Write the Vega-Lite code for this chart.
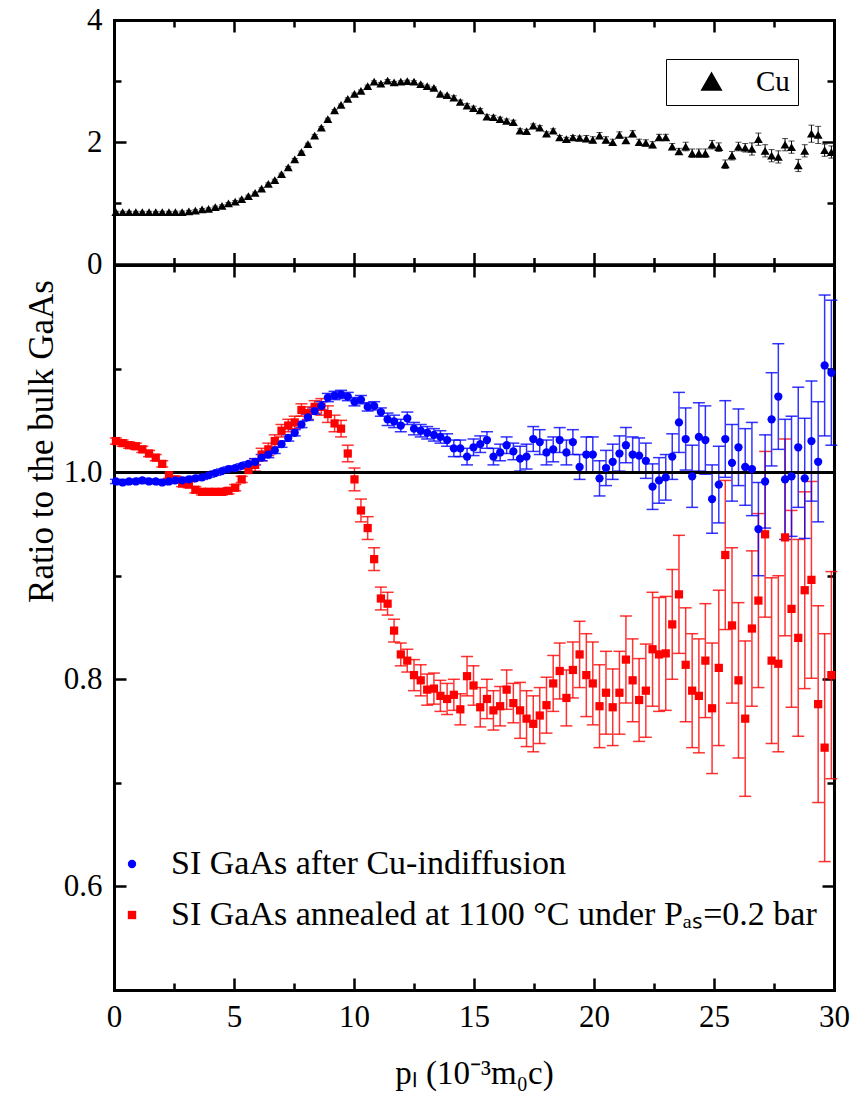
{
  "$schema": "https://vega.github.io/schema/vega-lite/v6.json",
  "background": "white",
  "padding": {"left": 23, "top": 4, "right": 8, "bottom": 4},
  "autosize": {"type": "pad"},
  "spacing": 0,
  "bounds": "flush",
  "resolve": {"scale": {"shape": "independent", "color": "independent"}, "legend": {"shape": "independent", "color": "independent"}},
  "config": {
    "font": "Liberation Serif",
    "view": {"stroke": null},
    "style": {"guide-label": {"font": "Liberation Serif"}, "guide-title": {"font": "Liberation Serif"}},
    "axis": {
      "grid": false, "domainColor": "black", "domainWidth": 3, "domainCap": "square",
      "tickColor": "black", "tickWidth": 2.5,
      "labelFont": "Liberation Serif", "labelFontSize": 31, "labelColor": "black",
      "titleFont": "Liberation Serif", "titleFontSize": 33, "titleColor": "black", "titleFontWeight": "normal",
      "labelFlush": false
    },
    "legend": {"labelFont": "Liberation Serif", "labelColor": "black", "labelLimit": 800}
  },
  "datasets": {
    "cu": [
      {"x":0.08,"v":0.855,"e":0.015},{"x":0.36,"v":0.855,"e":0.015},{"x":0.63,"v":0.855,"e":0.015},{"x":0.91,"v":0.855,"e":0.015},{"x":1.18,"v":0.855,"e":0.015},{"x":1.46,"v":0.855,"e":0.015},{"x":1.74,"v":0.855,"e":0.015},{"x":2.01,"v":0.855,"e":0.015},{"x":2.29,"v":0.855,"e":0.015},{"x":2.56,"v":0.856,"e":0.015},
      {"x":2.84,"v":0.858,"e":0.015},{"x":3.12,"v":0.87,"e":0.015},{"x":3.39,"v":0.88,"e":0.015},{"x":3.67,"v":0.90,"e":0.015},{"x":3.94,"v":0.91,"e":0.015},{"x":4.22,"v":0.94,"e":0.015},{"x":4.50,"v":0.96,"e":0.015},{"x":4.77,"v":1.00,"e":0.015},{"x":5.05,"v":1.03,"e":0.015},{"x":5.32,"v":1.07,"e":0.015},
      {"x":5.60,"v":1.12,"e":0.015},{"x":5.88,"v":1.17,"e":0.015},{"x":6.15,"v":1.24,"e":0.015},{"x":6.43,"v":1.32,"e":0.015},{"x":6.70,"v":1.38,"e":0.015},{"x":6.98,"v":1.48,"e":0.015},{"x":7.26,"v":1.59,"e":0.015},{"x":7.53,"v":1.72,"e":0.015},{"x":7.81,"v":1.84,"e":0.015},{"x":8.08,"v":1.97,"e":0.015},
      {"x":8.36,"v":2.11,"e":0.015},{"x":8.64,"v":2.24,"e":0.015},{"x":8.91,"v":2.38,"e":0.015},{"x":9.19,"v":2.52,"e":0.015},{"x":9.46,"v":2.61,"e":0.015},{"x":9.74,"v":2.71,"e":0.015},{"x":10.02,"v":2.79,"e":0.015},{"x":10.29,"v":2.84,"e":0.015},{"x":10.57,"v":2.92,"e":0.015},{"x":10.84,"v":2.99,"e":0.015},
      {"x":11.12,"v":2.96,"e":0.015},{"x":11.40,"v":3.01,"e":0.015},{"x":11.67,"v":2.98,"e":0.015},{"x":11.95,"v":2.99,"e":0.015},{"x":12.22,"v":3.00,"e":0.015},{"x":12.50,"v":2.99,"e":0.015},{"x":12.78,"v":2.95,"e":0.015},{"x":13.05,"v":2.92,"e":0.015},{"x":13.33,"v":2.89,"e":0.015},{"x":13.60,"v":2.79,"e":0.015},
      {"x":13.88,"v":2.77,"e":0.015},{"x":14.16,"v":2.73,"e":0.03},{"x":14.43,"v":2.66,"e":0.03},{"x":14.71,"v":2.60,"e":0.03},{"x":14.98,"v":2.56,"e":0.03},{"x":15.26,"v":2.52,"e":0.03},{"x":15.54,"v":2.42,"e":0.03},{"x":15.81,"v":2.41,"e":0.03},{"x":16.09,"v":2.38,"e":0.03},{"x":16.36,"v":2.35,"e":0.03},
      {"x":16.64,"v":2.33,"e":0.03},{"x":16.92,"v":2.19,"e":0.03},{"x":17.19,"v":2.18,"e":0.03},{"x":17.47,"v":2.27,"e":0.03},{"x":17.74,"v":2.24,"e":0.03},{"x":18.02,"v":2.14,"e":0.03},{"x":18.30,"v":2.19,"e":0.03},{"x":18.57,"v":2.08,"e":0.03},{"x":18.85,"v":2.05,"e":0.03},{"x":19.12,"v":2.08,"e":0.03},
      {"x":19.40,"v":2.07,"e":0.03},{"x":19.68,"v":2.06,"e":0.05},{"x":19.95,"v":2.04,"e":0.05},{"x":20.23,"v":2.11,"e":0.05},{"x":20.50,"v":2.04,"e":0.05},{"x":20.78,"v":2.00,"e":0.05},{"x":21.06,"v":2.12,"e":0.05},{"x":21.33,"v":2.03,"e":0.05},{"x":21.61,"v":2.14,"e":0.05},{"x":21.88,"v":2.00,"e":0.05},
      {"x":22.16,"v":1.99,"e":0.05},{"x":22.44,"v":1.96,"e":0.05},{"x":22.71,"v":2.08,"e":0.05},{"x":22.99,"v":2.08,"e":0.05},{"x":23.26,"v":1.93,"e":0.05},{"x":23.54,"v":1.85,"e":0.05},{"x":23.82,"v":1.93,"e":0.07},{"x":24.09,"v":1.82,"e":0.07},{"x":24.37,"v":1.82,"e":0.07},{"x":24.64,"v":1.82,"e":0.07},
      {"x":24.92,"v":1.96,"e":0.07},{"x":25.20,"v":1.92,"e":0.07},{"x":25.47,"v":1.64,"e":0.07},{"x":25.75,"v":1.78,"e":0.07},{"x":26.02,"v":1.93,"e":0.07},{"x":26.30,"v":1.91,"e":0.07},{"x":26.58,"v":1.89,"e":0.1},{"x":26.85,"v":2.05,"e":0.1},{"x":27.13,"v":1.86,"e":0.1},{"x":27.40,"v":1.78,"e":0.1},
      {"x":27.68,"v":1.76,"e":0.1},{"x":27.96,"v":1.96,"e":0.1},{"x":28.23,"v":1.92,"e":0.1},{"x":28.51,"v":1.62,"e":0.1},{"x":28.78,"v":1.86,"e":0.1},{"x":29.06,"v":2.14,"e":0.14},{"x":29.34,"v":2.12,"e":0.14},{"x":29.61,"v":1.87,"e":0.1},{"x":29.89,"v":1.84,"e":0.1}
    ],
    "gaas": [
      {"s":"b","x":0.08,"v":1.030,"e":0.003},{"s":"b","x":0.36,"v":1.028,"e":0.003},{"s":"b","x":0.63,"v":1.026,"e":0.003},{"s":"b","x":0.91,"v":1.025,"e":0.003},{"s":"b","x":1.18,"v":1.022,"e":0.003},{"s":"b","x":1.46,"v":1.018,"e":0.003},{"s":"b","x":1.74,"v":1.014,"e":0.003},{"s":"b","x":2.01,"v":1.008,"e":0.003},{"s":"b","x":2.29,"v":0.997,"e":0.003},{"s":"b","x":2.56,"v":0.993,"e":0.003},
      {"s":"b","x":2.84,"v":0.989,"e":0.003},{"s":"b","x":3.12,"v":0.988,"e":0.003},{"s":"b","x":3.39,"v":0.983,"e":0.003},{"s":"b","x":3.67,"v":0.981,"e":0.003},{"s":"b","x":3.94,"v":0.981,"e":0.003},{"s":"b","x":4.22,"v":0.981,"e":0.003},{"s":"b","x":4.50,"v":0.981,"e":0.003},{"s":"b","x":4.77,"v":0.982,"e":0.003},{"s":"b","x":5.05,"v":0.985,"e":0.003},{"s":"b","x":5.32,"v":0.993,"e":0.003},
      {"s":"b","x":5.60,"v":1.002,"e":0.003},{"s":"b","x":5.88,"v":1.007,"e":0.006},{"s":"b","x":6.15,"v":1.017,"e":0.006},{"s":"b","x":6.43,"v":1.022,"e":0.006},{"s":"b","x":6.70,"v":1.030,"e":0.006},{"s":"b","x":6.98,"v":1.040,"e":0.006},{"s":"b","x":7.26,"v":1.045,"e":0.006},{"s":"b","x":7.53,"v":1.048,"e":0.006},{"s":"b","x":7.81,"v":1.060,"e":0.006},{"s":"b","x":8.08,"v":1.057,"e":0.006},
      {"s":"b","x":8.36,"v":1.063,"e":0.006},{"s":"b","x":8.64,"v":1.063,"e":0.008},{"s":"b","x":8.91,"v":1.056,"e":0.008},{"s":"b","x":9.19,"v":1.047,"e":0.008},{"s":"b","x":9.46,"v":1.042,"e":0.008},{"s":"b","x":9.74,"v":1.018,"e":0.008},{"s":"b","x":10.02,"v":0.993,"e":0.011},{"s":"b","x":10.29,"v":0.963,"e":0.011},{"s":"b","x":10.57,"v":0.946,"e":0.011},{"s":"b","x":10.84,"v":0.916,"e":0.011},
      {"s":"b","x":11.12,"v":0.878,"e":0.011},{"s":"b","x":11.40,"v":0.873,"e":0.011},{"s":"b","x":11.67,"v":0.847,"e":0.011},{"s":"b","x":11.95,"v":0.824,"e":0.011},{"s":"b","x":12.22,"v":0.818,"e":0.011},{"s":"b","x":12.50,"v":0.804,"e":0.015},{"s":"b","x":12.78,"v":0.799,"e":0.015},{"s":"b","x":13.05,"v":0.790,"e":0.015},{"s":"b","x":13.33,"v":0.791,"e":0.015},{"s":"b","x":13.60,"v":0.784,"e":0.015},
      {"s":"b","x":13.88,"v":0.781,"e":0.015},{"s":"b","x":14.16,"v":0.785,"e":0.015},{"s":"b","x":14.43,"v":0.771,"e":0.015},{"s":"b","x":14.71,"v":0.803,"e":0.019},{"s":"b","x":14.98,"v":0.794,"e":0.019},{"s":"b","x":15.26,"v":0.773,"e":0.019},{"s":"b","x":15.54,"v":0.781,"e":0.019},{"s":"b","x":15.81,"v":0.770,"e":0.019},{"s":"b","x":16.09,"v":0.774,"e":0.019},{"s":"b","x":16.36,"v":0.790,"e":0.019},
      {"s":"b","x":16.64,"v":0.777,"e":0.019},{"s":"b","x":16.92,"v":0.770,"e":0.027},{"s":"b","x":17.19,"v":0.762,"e":0.027},{"s":"b","x":17.47,"v":0.757,"e":0.027},{"s":"b","x":17.74,"v":0.765,"e":0.027},{"s":"b","x":18.02,"v":0.775,"e":0.027},{"s":"b","x":18.30,"v":0.796,"e":0.027},{"s":"b","x":18.57,"v":0.808,"e":0.027},{"s":"b","x":18.85,"v":0.782,"e":0.027},{"s":"b","x":19.12,"v":0.809,"e":0.027},
      {"s":"b","x":19.40,"v":0.824,"e":0.032},{"s":"b","x":19.68,"v":0.804,"e":0.04},{"s":"b","x":19.95,"v":0.796,"e":0.04},{"s":"b","x":20.23,"v":0.774,"e":0.04},{"s":"b","x":20.50,"v":0.787,"e":0.04},{"s":"b","x":20.78,"v":0.773,"e":0.037},{"s":"b","x":21.06,"v":0.787,"e":0.04},{"s":"b","x":21.33,"v":0.819,"e":0.042},{"s":"b","x":21.61,"v":0.799,"e":0.04},{"s":"b","x":21.88,"v":0.780,"e":0.04},
      {"s":"b","x":22.16,"v":0.789,"e":0.045},{"s":"b","x":22.44,"v":0.829,"e":0.055},{"s":"b","x":22.71,"v":0.824,"e":0.055},{"s":"b","x":22.99,"v":0.825,"e":0.055},{"s":"b","x":23.26,"v":0.853,"e":0.053},{"s":"b","x":23.54,"v":0.882,"e":0.057},{"s":"b","x":23.82,"v":0.814,"e":0.055},{"s":"b","x":24.09,"v":0.789,"e":0.055},{"s":"b","x":24.37,"v":0.784,"e":0.055},{"s":"b","x":24.64,"v":0.818,"e":0.055},
      {"s":"b","x":24.92,"v":0.772,"e":0.063},{"s":"b","x":25.20,"v":0.811,"e":0.075},{"s":"b","x":25.47,"v":0.920,"e":0.072},{"s":"b","x":25.75,"v":0.852,"e":0.075},{"s":"b","x":26.02,"v":0.799,"e":0.075},{"s":"b","x":26.30,"v":0.762,"e":0.075},{"s":"b","x":26.58,"v":0.849,"e":0.075},{"s":"b","x":26.85,"v":0.876,"e":0.084},{"s":"b","x":27.13,"v":0.940,"e":0.08},{"s":"b","x":27.40,"v":0.818,"e":0.08},
      {"s":"b","x":27.68,"v":0.815,"e":0.085},{"s":"b","x":27.96,"v":0.937,"e":0.095},{"s":"b","x":28.23,"v":0.868,"e":0.095},{"s":"b","x":28.51,"v":0.840,"e":0.095},{"s":"b","x":28.78,"v":0.886,"e":0.095},{"s":"b","x":29.06,"v":0.896,"e":0.095},{"s":"b","x":29.34,"v":0.776,"e":0.095},{"s":"b","x":29.61,"v":0.734,"e":0.11},{"s":"b","x":29.89,"v":0.804,"e":0.1},
      {"s":"a","x":0.08,"v":0.991,"e":0.002},{"s":"a","x":0.36,"v":0.990,"e":0.002},{"s":"a","x":0.63,"v":0.991,"e":0.002},{"s":"a","x":0.91,"v":0.991,"e":0.002},{"s":"a","x":1.18,"v":0.992,"e":0.002},{"s":"a","x":1.46,"v":0.991,"e":0.002},{"s":"a","x":1.74,"v":0.991,"e":0.002},{"s":"a","x":2.01,"v":0.990,"e":0.002},{"s":"a","x":2.29,"v":0.991,"e":0.002},{"s":"a","x":2.56,"v":0.992,"e":0.002},
      {"s":"a","x":2.84,"v":0.992,"e":0.002},{"s":"a","x":3.12,"v":0.993,"e":0.002},{"s":"a","x":3.39,"v":0.994,"e":0.002},{"s":"a","x":3.67,"v":0.995,"e":0.002},{"s":"a","x":3.94,"v":0.997,"e":0.002},{"s":"a","x":4.22,"v":0.999,"e":0.002},{"s":"a","x":4.50,"v":1.001,"e":0.002},{"s":"a","x":4.77,"v":1.003,"e":0.002},{"s":"a","x":5.05,"v":1.004,"e":0.002},{"s":"a","x":5.32,"v":1.006,"e":0.002},
      {"s":"a","x":5.60,"v":1.008,"e":0.002},{"s":"a","x":5.88,"v":1.010,"e":0.003},{"s":"a","x":6.15,"v":1.014,"e":0.003},{"s":"a","x":6.43,"v":1.017,"e":0.003},{"s":"a","x":6.70,"v":1.021,"e":0.003},{"s":"a","x":6.98,"v":1.027,"e":0.003},{"s":"a","x":7.26,"v":1.033,"e":0.003},{"s":"a","x":7.53,"v":1.038,"e":0.003},{"s":"a","x":7.81,"v":1.046,"e":0.003},{"s":"a","x":8.08,"v":1.053,"e":0.003},
      {"s":"a","x":8.36,"v":1.059,"e":0.003},{"s":"a","x":8.64,"v":1.064,"e":0.004},{"s":"a","x":8.91,"v":1.072,"e":0.004},{"s":"a","x":9.19,"v":1.074,"e":0.004},{"s":"a","x":9.46,"v":1.075,"e":0.004},{"s":"a","x":9.74,"v":1.073,"e":0.004},{"s":"a","x":10.02,"v":1.068,"e":0.004},{"s":"a","x":10.29,"v":1.070,"e":0.004},{"s":"a","x":10.57,"v":1.063,"e":0.004},{"s":"a","x":10.84,"v":1.064,"e":0.004},
      {"s":"a","x":11.12,"v":1.058,"e":0.004},{"s":"a","x":11.40,"v":1.051,"e":0.006},{"s":"a","x":11.67,"v":1.049,"e":0.006},{"s":"a","x":11.95,"v":1.045,"e":0.006},{"s":"a","x":12.22,"v":1.052,"e":0.006},{"s":"a","x":12.50,"v":1.042,"e":0.006},{"s":"a","x":12.78,"v":1.040,"e":0.006},{"s":"a","x":13.05,"v":1.038,"e":0.006},{"s":"a","x":13.33,"v":1.036,"e":0.006},{"s":"a","x":13.60,"v":1.034,"e":0.006},
      {"s":"a","x":13.88,"v":1.031,"e":0.006},{"s":"a","x":14.16,"v":1.023,"e":0.008},{"s":"a","x":14.43,"v":1.023,"e":0.008},{"s":"a","x":14.71,"v":1.015,"e":0.008},{"s":"a","x":14.98,"v":1.024,"e":0.008},{"s":"a","x":15.26,"v":1.027,"e":0.008},{"s":"a","x":15.54,"v":1.031,"e":0.008},{"s":"a","x":15.81,"v":1.015,"e":0.008},{"s":"a","x":16.09,"v":1.019,"e":0.008},{"s":"a","x":16.36,"v":1.026,"e":0.008},
      {"s":"a","x":16.64,"v":1.020,"e":0.008},{"s":"a","x":16.92,"v":1.013,"e":0.012},{"s":"a","x":17.19,"v":1.015,"e":0.012},{"s":"a","x":17.47,"v":1.032,"e":0.012},{"s":"a","x":17.74,"v":1.029,"e":0.012},{"s":"a","x":18.02,"v":1.019,"e":0.012},{"s":"a","x":18.30,"v":1.022,"e":0.012},{"s":"a","x":18.57,"v":1.031,"e":0.012},{"s":"a","x":18.85,"v":1.019,"e":0.012},{"s":"a","x":19.12,"v":1.029,"e":0.012},
      {"s":"a","x":19.40,"v":1.005,"e":0.012},{"s":"a","x":19.68,"v":1.017,"e":0.017},{"s":"a","x":19.95,"v":1.017,"e":0.017},{"s":"a","x":20.23,"v":0.994,"e":0.017},{"s":"a","x":20.50,"v":1.004,"e":0.017},{"s":"a","x":20.78,"v":1.010,"e":0.017},{"s":"a","x":21.06,"v":1.018,"e":0.017},{"s":"a","x":21.33,"v":1.026,"e":0.017},{"s":"a","x":21.61,"v":1.017,"e":0.017},{"s":"a","x":21.88,"v":1.016,"e":0.017},
      {"s":"a","x":22.16,"v":1.011,"e":0.017},{"s":"a","x":22.44,"v":0.986,"e":0.022},{"s":"a","x":22.71,"v":0.992,"e":0.022},{"s":"a","x":22.99,"v":0.995,"e":0.022},{"s":"a","x":23.26,"v":1.015,"e":0.022},{"s":"a","x":23.54,"v":1.048,"e":0.029},{"s":"a","x":23.82,"v":1.032,"e":0.03},{"s":"a","x":24.09,"v":0.996,"e":0.03},{"s":"a","x":24.37,"v":1.034,"e":0.033},{"s":"a","x":24.64,"v":1.031,"e":0.033},
      {"s":"a","x":24.92,"v":0.974,"e":0.033},{"s":"a","x":25.20,"v":0.988,"e":0.037},{"s":"a","x":25.47,"v":1.032,"e":0.037},{"s":"a","x":25.75,"v":1.009,"e":0.037},{"s":"a","x":26.02,"v":1.024,"e":0.037},{"s":"a","x":26.30,"v":1.005,"e":0.037},{"s":"a","x":26.58,"v":1.003,"e":0.045},{"s":"a","x":26.85,"v":0.945,"e":0.045},{"s":"a","x":27.13,"v":0.991,"e":0.045},{"s":"a","x":27.40,"v":1.051,"e":0.045},
      {"s":"a","x":27.68,"v":1.073,"e":0.051},{"s":"a","x":27.96,"v":0.993,"e":0.058},{"s":"a","x":28.23,"v":0.996,"e":0.058},{"s":"a","x":28.51,"v":1.024,"e":0.058},{"s":"a","x":28.78,"v":0.994,"e":0.058},{"s":"a","x":29.06,"v":1.030,"e":0.058},{"s":"a","x":29.34,"v":1.010,"e":0.058},{"s":"a","x":29.61,"v":1.103,"e":0.068},{"s":"a","x":29.89,"v":1.096,"e":0.07}
    ]
  },
  "vconcat": [
    {
      "width": 720, "height": 244.5,
      "data": {"name": "cu"},
      "resolve": {"axis": {"x": "independent", "y": "independent"}},
      "layer": [
        {"mark": {"type": "errorbar", "ticks": {"size": 6}, "thickness": 1, "color": "black"},
         "encoding": {
           "x": {"field": "x", "type": "quantitative", "scale": {"domain": [0, 30], "nice": false, "zero": false}, "axis": null},
           "y": {"field": "v", "type": "quantitative", "scale": {"domain": [0, 4], "nice": false}, "axis": null},
           "yError": {"field": "e"}}},
        {"mark": {"type": "point", "filled": true, "shape": "triangle-up", "opacity": 1, "size": 80},
         "encoding": {
           "x": {"field": "x", "type": "quantitative", "axis": {"orient": "bottom", "values": [0,5,10,15,20,25,30], "labels": false, "tickSize": -12, "title": null}},
           "y": {"field": "v", "type": "quantitative", "axis": {"orient": "left", "values": [0,2,4], "format": "d", "tickSize": -12, "labelPadding": 24, "title": null, "labelFont": "Liberation Serif"}},
           "color": {"datum": "Cu", "type": "nominal", "scale": {"domain": ["Cu"], "range": ["black"]},
             "legend": {"orient": "none", "legendX": 552, "legendY": 39, "title": null, "strokeColor": "black", "fillColor": "white", "padding": 8,
               "symbolType": "triangle-up", "symbolSize": 380, "symbolFillColor": "black", "symbolStrokeColor": "black", "symbolOffset": 23, "labelOffset": 30, "labelFontSize": 29, "labelFont": "Liberation Serif"}}}},
        {"mark": {"type": "point", "opacity": 0},
         "encoding": {
           "x": {"field": "x", "type": "quantitative", "axis": {"orient": "top", "values": [0,5,10,15,20,25,30], "labels": false, "tickSize": -12, "title": null}},
           "y": {"field": "v", "type": "quantitative", "axis": {"orient": "right", "values": [0,2,4], "labels": false, "tickSize": -12, "title": null}}}},
        {"mark": {"type": "point", "opacity": 0},
         "encoding": {
           "x": {"field": "x", "type": "quantitative", "axis": {"orient": "bottom", "values": [2.5,7.5,12.5,17.5,22.5,27.5], "labels": false, "tickSize": -7, "title": null}},
           "y": {"field": "v", "type": "quantitative", "axis": {"orient": "left", "values": [1,3], "labels": false, "tickSize": -7, "title": null}}}},
        {"mark": {"type": "point", "opacity": 0},
         "encoding": {
           "x": {"field": "x", "type": "quantitative", "axis": {"orient": "top", "values": [2.5,7.5,12.5,17.5,22.5,27.5], "labels": false, "tickSize": -7, "title": null}},
           "y": {"field": "v", "type": "quantitative", "axis": {"orient": "right", "values": [1,3], "labels": false, "tickSize": -7, "title": null}}}}
      ]
    },
    {
      "width": 720, "height": 725,
      "data": {"name": "gaas"},
      "resolve": {"axis": {"x": "independent", "y": "independent"}},
      "layer": [
        {"transform": [{"filter": "datum.s == 'b'"}],
         "mark": {"type": "errorbar", "ticks": {"size": 12}, "thickness": 1.5, "opacity": 0.8, "color": "#ff0000"},
         "encoding": {
           "x": {"field": "x", "type": "quantitative", "scale": {"domain": [0, 30], "nice": false, "zero": false}, "axis": null},
           "y": {"field": "v", "type": "quantitative", "scale": {"domain": [0.5, 1.2], "nice": false, "zero": false}, "axis": null},
           "yError": {"field": "e"}}},
        {"transform": [{"filter": "datum.s == 'a'"}],
         "mark": {"type": "errorbar", "ticks": {"size": 12}, "thickness": 1.5, "opacity": 0.8, "color": "#0000ff"},
         "encoding": {
           "x": {"field": "x", "type": "quantitative", "axis": null},
           "y": {"field": "v", "type": "quantitative", "axis": null},
           "yError": {"field": "e"}}},
        {"mark": {"type": "rule", "color": "black", "strokeWidth": 2},
         "encoding": {"y": {"datum": 1, "type": "quantitative", "axis": null}}},
        {"mark": {"type": "point", "filled": true, "opacity": 1, "size": 68},
         "encoding": {
           "x": {"field": "x", "type": "quantitative", "axis": {"orient": "bottom", "values": [0,5,10,15,20,25,30], "format": "d", "tickSize": -12, "labelPadding": 24, "title": "p\u2097 (10\u207b\u00b3m\u2080c)", "titleBaseline": "alphabetic", "titleY": 93, "labelFont": "Liberation Serif", "titleFont": "Liberation Serif"}},
           "y": {"field": "v", "type": "quantitative", "axis": {"orient": "left", "values": [0.6, 0.8, 1.0], "format": ".1f", "tickSize": -12, "labelPadding": 24, "title": "Ratio to the bulk GaAs", "titleFontSize": 35, "titleAngle": 270, "titleBaseline": "alphabetic", "titleAlign": "center", "titleX": -62, "titleY": 176, "labelFont": "Liberation Serif", "titleFont": "Liberation Serif"}},
           "color": {"field": "s", "type": "nominal", "scale": {"domain": ["a", "b"], "range": ["#0000ff", "#ff0000"]},
             "legend": {"orient": "none", "legendX": 1, "legendY": 582, "title": null, "padding": 0, "symbolSize": 70, "symbolStrokeWidth": 0, "labelOffset": 22, "rowPadding": 17, "labelFontSize": 34, "labelLimit": 800, "labelFont": "Liberation Serif",
               "labelExpr": "datum.value == 'a' ? 'SI GaAs after Cu-indiffusion' : 'SI GaAs annealed at 1100 \u00b0C under P\u2090\u209b=0.2 bar'"}},
           "shape": {"field": "s", "type": "nominal", "scale": {"domain": ["a", "b"], "range": ["circle", "square"]},
             "legend": {"orient": "none", "legendX": 1, "legendY": 582, "title": null, "padding": 0, "symbolSize": 70, "symbolStrokeWidth": 0, "labelOffset": 22, "rowPadding": 17, "labelFontSize": 34, "labelLimit": 800, "labelFont": "Liberation Serif",
               "labelExpr": "datum.value == 'a' ? 'SI GaAs after Cu-indiffusion' : 'SI GaAs annealed at 1100 \u00b0C under P\u2090\u209b=0.2 bar'"}}}},
        {"mark": {"type": "point", "opacity": 0},
         "encoding": {
           "x": {"field": "x", "type": "quantitative", "axis": {"orient": "top", "values": [0,5,10,15,20,25,30], "labels": false, "tickSize": -12, "title": null}},
           "y": {"field": "v", "type": "quantitative", "axis": {"orient": "right", "values": [0.6, 0.8, 1.0], "labels": false, "tickSize": -12, "title": null}}}},
        {"mark": {"type": "point", "opacity": 0},
         "encoding": {
           "x": {"field": "x", "type": "quantitative", "axis": {"orient": "bottom", "values": [2.5,7.5,12.5,17.5,22.5,27.5], "labels": false, "tickSize": -7, "title": null}},
           "y": {"field": "v", "type": "quantitative", "axis": {"orient": "left", "values": [0.7, 0.9, 1.1], "labels": false, "tickSize": -7, "title": null}}}},
        {"mark": {"type": "point", "opacity": 0},
         "encoding": {
           "x": {"field": "x", "type": "quantitative", "axis": {"orient": "top", "values": [2.5,7.5,12.5,17.5,22.5,27.5], "labels": false, "tickSize": -7, "title": null}},
           "y": {"field": "v", "type": "quantitative", "axis": {"orient": "right", "values": [0.7, 0.9, 1.1], "labels": false, "tickSize": -7, "title": null}}}}
      ]
    }
  ]
}
